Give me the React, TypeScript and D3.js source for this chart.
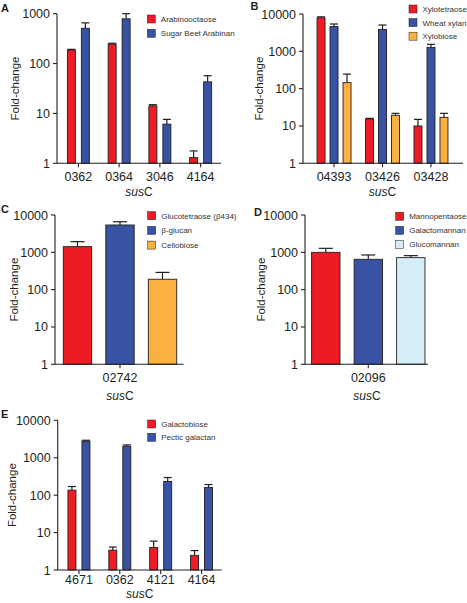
import React from "react";
import * as d3 from "d3";

const INK = "#231F20";
const RED = "#ED1C24";
const BLUE = "#3953A4";
const ORANGE = "#FBB040";
const PALE = "#D5EEF6";
const FONT = "'Liberation Sans', Arial, Helvetica, sans-serif";

// ---- Panel A ----
const catsA = ["0362", "0364", "3046", "4164"];
const arabinooctaose = [187, 245, 14.2, 1.3];
const arabinooctaoseErr = [6, 10, 0.8, 0.47];
const sugarBeetArabinan = [510, 790, 6.1, 43];
const sugarBeetArabinanErr = [145, 210, 1.5, 14];

// ---- Panel B ----
const catsB = ["04393", "03426", "03428"];
const xylotetraose = [7900, 15.4, 10];
const xylotetraoseErr = [500, 0.6, 5];
const wheatXylan = [4600, 3870, 1280];
const wheatXylanErr = [800, 1200, 260];
const xylobiose = [145, 19.3, 17];
const xylobioseErr = [100, 2.5, 4.8];

// ---- Panel C ----
const catsC = ["02742"];
const glucotetraose = [1420];
const glucotetraoseErr = [510];
const betaGlucan = [5400];
const betaGlucanErr = [1200];
const cellobiose = [190];
const cellobioseErr = [100];

// ---- Panel D ----
const catsD = ["02096"];
const mannopentaose = [1000];
const mannopentaoseErr = [280];
const galactomannan = [650];
const galactomannanErr = [200];
const glucomannan = [720];
const glucomannanErr = [95];

// ---- Panel E ----
const catsE = ["4671", "0362", "4121", "4164"];
const galactobiose = [136, 3.4, 4.0, 2.46];
const galactobioseErr = [34, 0.7, 1.9, 0.85];
const pecticGalactan = [2750, 2030, 231, 160];
const pecticGalactanErr = [180, 170, 65, 32];

const ticks3 = [1, 10, 100, 1000];
const ticks4 = [1, 10, 100, 1000, 10000];

type Series = { name: string; color: string; values: number[]; errors: number[] };

type PanelProps = {
  letter: string;
  letterX: number;
  letterY: number;
  x0: number;
  x1: number;
  band: [number, number];
  paddingOuter: number;
  yTop: number;
  yBottom: number;
  ticks: number[];
  categories: string[];
  series: Series[];
  groupWidth: number;
  barPadding: number;
  capWidth: number;
  tickLabelY: number;
  titleX: number;
  titleY: number;
  ylabX: number;
  legendX: number;
  legendY: number;
  legendStep: number;
};

function Panel(p: PanelProps) {
  const y = d3
    .scaleLog()
    .domain([1, d3.max(p.ticks) as number])
    .range([p.yBottom, p.yTop]);
  const xo = d3
    .scaleBand<string>()
    .domain(p.categories)
    .range(p.band)
    .paddingInner(0)
    .paddingOuter(p.paddingOuter);
  const xi = d3
    .scaleBand<string>()
    .domain(p.series.map((s) => s.name))
    .range([-p.groupWidth / 2, p.groupWidth / 2])
    .paddingInner(p.barPadding)
    .paddingOuter(0);
  const bw = xi.bandwidth();
  const center = (c: string) => (xo(c) as number) + xo.bandwidth() / 2;
  const yMid = (p.yTop + p.yBottom) / 2;

  return (
    <g fontFamily={FONT}>
      <text x={p.letterX} y={p.letterY} fontSize={11} fontWeight="bold" fill={INK}>
        {p.letter}
      </text>
      {p.categories.map((c, ci) =>
        p.series.map((s) => {
          const bx = center(c) + (xi(s.name) as number);
          const v = s.values[ci];
          const top = y(v);
          const errTop = y(v + s.errors[ci]);
          const cx = bx + bw / 2;
          return (
            <g key={c + s.name}>
              <line x1={cx} x2={cx} y1={top} y2={errTop} stroke={INK} strokeWidth={1.2} />
              <line
                x1={cx - p.capWidth / 2}
                x2={cx + p.capWidth / 2}
                y1={errTop}
                y2={errTop}
                stroke={INK}
                strokeWidth={1.2}
              />
              <rect
                x={bx}
                y={top}
                width={bw}
                height={p.yBottom - top}
                fill={s.color}
                stroke={INK}
                strokeWidth={0.9}
              />
            </g>
          );
        })
      )}
      <line x1={p.x0} x2={p.x0} y1={p.yTop} y2={p.yBottom} stroke={INK} strokeWidth={1.1} />
      {p.ticks.map((t) => (
        <g key={t}>
          <line x1={p.x0 - 4} x2={p.x0} y1={y(t)} y2={y(t)} stroke={INK} strokeWidth={1.1} />
          <text
            x={p.x0 - 7}
            y={y(t)}
            dy="0.36em"
            textAnchor="end"
            fontSize={12.5}
            fill={INK}
          >
            {String(t)}
          </text>
        </g>
      ))}
      <line x1={p.x0} x2={p.x1} y1={p.yBottom} y2={p.yBottom} stroke={INK} strokeWidth={1.1} />
      {p.categories.map((c) => (
        <g key={c}>
          <line
            x1={center(c)}
            x2={center(c)}
            y1={p.yBottom}
            y2={p.yBottom + 4}
            stroke={INK}
            strokeWidth={1.1}
          />
          <text x={center(c)} y={p.tickLabelY} textAnchor="middle" fontSize={12.5} fill={INK}>
            {c}
          </text>
        </g>
      ))}
      <text x={p.titleX} y={p.titleY} textAnchor="middle" fontSize={12} fill={INK}>
        <tspan fontStyle="italic">sus</tspan>C
      </text>
      <text
        transform={`translate(${p.ylabX},${yMid}) rotate(-90)`}
        textAnchor="middle"
        fontSize={11.5}
        fill={INK}
      >
        Fold-change
      </text>
      {p.series.map((s, i) => (
        <g key={s.name}>
          <rect
            x={p.legendX}
            y={p.legendY + i * p.legendStep}
            width={8}
            height={8}
            fill={s.color}
            stroke={INK}
            strokeWidth={0.5}
          />
          <text
            x={p.legendX + 13.5}
            y={p.legendY + i * p.legendStep + 7}
            fontSize={8}
            fill="#333"
          >
            {s.name}
          </text>
        </g>
      ))}
    </g>
  );
}

export default function App() {
  return (
    <svg
      width={467}
      height={603}
      style={{ position: "absolute", left: 0, top: 0, background: "#fff" }}
    >
      <Panel
        letter="A"
        letterX={1}
        letterY={11.5}
        x0={57}
        x1={221}
        band={[58, 221]}
        paddingOuter={0}
        yTop={13.7}
        yBottom={163.3}
        ticks={ticks3}
        categories={catsA}
        series={[
          { name: "Arabinooctaose", color: RED, values: arabinooctaose, errors: arabinooctaoseErr },
          { name: "Sugar Beet Arabinan", color: BLUE, values: sugarBeetArabinan, errors: sugarBeetArabinanErr },
        ]}
        groupWidth={22}
        barPadding={0.4286}
        capWidth={8}
        tickLabelY={180.5}
        titleX={139}
        titleY={195.5}
        ylabX={18.5}
        legendX={147.3}
        legendY={15}
        legendStep={14.3}
      />
      <Panel
        letter="B"
        letterX={250.5}
        letterY={9.5}
        x0={303}
        x1={463}
        band={[303, 462]}
        paddingOuter={0.14}
        yTop={14}
        yBottom={163.3}
        ticks={ticks4}
        categories={catsB}
        series={[
          { name: "Xylotetraose", color: RED, values: xylotetraose, errors: xylotetraoseErr },
          { name: "Wheat xylan", color: BLUE, values: wheatXylan, errors: wheatXylanErr },
          { name: "Xylobiose", color: ORANGE, values: xylobiose, errors: xylobioseErr },
        ]}
        groupWidth={34}
        barPadding={0.385}
        capWidth={8}
        tickLabelY={181}
        titleX={382.5}
        titleY={195.5}
        ylabX={263}
        legendX={409}
        legendY={5}
        legendStep={13.6}
      />
      <Panel
        letter="C"
        letterX={1}
        letterY={212.5}
        x0={55}
        x1={183.5}
        band={[55, 185]}
        paddingOuter={0}
        yTop={215}
        yBottom={364.3}
        ticks={ticks4}
        categories={catsC}
        series={[
          { name: "Glucotetraose (β434)", color: RED, values: glucotetraose, errors: glucotetraoseErr },
          { name: "β-glucan", color: BLUE, values: betaGlucan, errors: betaGlucanErr },
          { name: "Cellobiose", color: ORANGE, values: cellobiose, errors: cellobioseErr },
        ]}
        groupWidth={113.4}
        barPadding={0.332}
        capWidth={14}
        tickLabelY={382}
        titleX={120}
        titleY={400}
        ylabX={17.7}
        legendX={147.7}
        legendY={211.7}
        legendStep={14.7}
      />
      <Panel
        letter="D"
        letterX={254}
        letterY={215.7}
        x0={305}
        x1={428}
        band={[303, 433.6]}
        paddingOuter={0}
        yTop={215}
        yBottom={364.3}
        ticks={ticks4}
        categories={catsD}
        series={[
          { name: "Mannopentaose", color: RED, values: mannopentaose, errors: mannopentaoseErr },
          { name: "Galactomannan", color: BLUE, values: galactomannan, errors: galactomannanErr },
          { name: "Glucomannan", color: PALE, values: glucomannan, errors: glucomannanErr },
        ]}
        groupWidth={113.4}
        barPadding={0.332}
        capWidth={14}
        tickLabelY={382}
        titleX={367}
        titleY={400}
        ylabX={264.5}
        legendX={395.7}
        legendY={212.3}
        legendStep={14}
      />
      <Panel
        letter="E"
        letterX={1}
        letterY={418}
        x0={57.7}
        x1={221.7}
        band={[58.5, 222]}
        paddingOuter={0}
        yTop={420.3}
        yBottom={570}
        ticks={ticks4}
        categories={catsE}
        series={[
          { name: "Galactobiose", color: RED, values: galactobiose, errors: galactobioseErr },
          { name: "Pectic galactan", color: BLUE, values: pecticGalactan, errors: pecticGalactanErr },
        ]}
        groupWidth={22}
        barPadding={0.4286}
        capWidth={8}
        tickLabelY={584}
        titleX={139.7}
        titleY={598}
        ylabX={16}
        legendX={147.7}
        legendY={420}
        legendStep={13.3}
      />
    </svg>
  );
}
